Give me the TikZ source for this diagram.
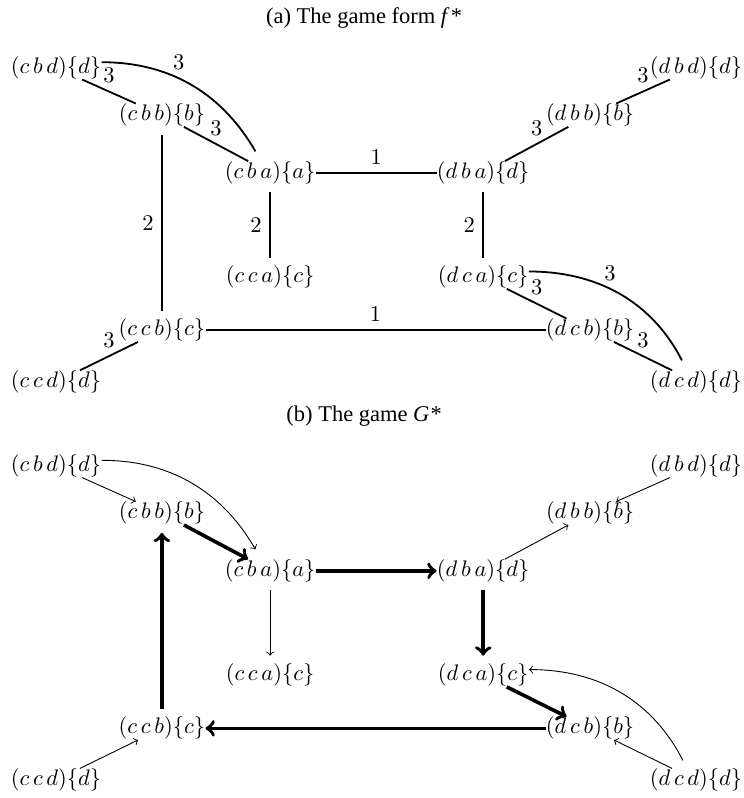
\documentclass[tikz,border=0pt]{standalone}
\usepackage{amsmath}
\usepackage{fontspec}
\newfontfamily\capfont{Liberation Serif}
\usetikzlibrary{positioning}

\begin{document}
\begin{tikzpicture}[
  state/.style={inner sep=0pt},
  caption/.style={font=\capfont},
  edge/.style={thick},
  gap/.style={shorten <=3.5pt, shorten >=3.5pt},
  weight/.style={midway},
  move/.style={->, thin},
  best/.style={->, line width=1.6pt},
]
  \useasboundingbox (0,0) rectangle (11.625,-12.469);

  % (a) the game form
  \node[caption] (capf) at (5.69,-0.28) {(a) The game form \textit{f}\kern0.5pt*};
  \node[state] (f-cbd) at (0.875,-1.06) {$(c\,b\,d)\{d\}$};
  \node[state] (f-cbb) at (2.53,-1.80) {$(c\,b\,b)\{b\}$};
  \node[state] (f-cba) at (4.22,-2.70) {$(c\,b\,a)\{a\}$};
  \node[state] (f-dba) at (7.55,-2.70) {$(d\,b\,a)\{d\}$};
  \node[state] (f-dbb) at (9.22,-1.80) {$(d\,b\,b)\{b\}$};
  \node[state] (f-dbd) at (10.875,-1.06) {$(d\,b\,d)\{d\}$};
  \node[state] (f-cca) at (4.22,-4.33) {$(c\,c\,a)\{c\}$};
  \node[state] (f-dca) at (7.55,-4.33) {$(d\,c\,a)\{c\}$};
  \node[state] (f-ccb) at (2.53,-5.16) {$(c\,c\,b)\{c\}$};
  \node[state] (f-dcb) at (9.22,-5.16) {$(d\,c\,b)\{b\}$};
  \node[state] (f-ccd) at (0.875,-5.97) {$(c\,c\,d)\{d\}$};
  \node[state] (f-dcd) at (10.875,-5.97) {$(d\,c\,d)\{d\}$};

  \draw[edge] (f-cbd) -- node[weight, above] {3} (f-cbb);
  \draw[edge] (f-cbb) -- node[weight, above] {3} (f-cba);
  \draw[edge, shorten >=5pt] ([yshift=2.5pt]f-cbd.east) to[out=0, in=120]
    node[pos=0.4, above] {3} ([xshift=-4pt]f-cba.north);
  \draw[edge] (f-cba) -- node[weight, above] {1} (f-dba);
  \draw[edge, gap] (f-cba) -- node[weight, left] {2} (f-cca);
  \draw[edge, gap] (f-cbb) -- node[weight, left] {2} (f-ccb);
  \draw[edge, gap] (f-dba) -- node[weight, left] {2} (f-dca);
  \draw[edge] (f-dba) -- node[weight, above] {3} (f-dbb);
  \draw[edge] (f-dbb) -- node[weight, above] {3} (f-dbd);
  \draw[edge] (f-ccb) -- node[weight, above] {1} (f-dcb);
  \draw[edge] (f-ccd) -- node[weight, above] {3} (f-ccb);
  \draw[edge] (f-dca) -- node[weight, above] {3} (f-dcb);
  \draw[edge] (f-dcb) -- node[weight, above] {3} (f-dcd);
  \draw[edge, shorten >=5pt] ([yshift=2.5pt]f-dca.east) to[out=0, in=117]
    node[pos=0.42, above] {3} ([xshift=-4pt]f-dcd.north);

  % (b) the game
  \begin{scope}[yshift=-6.22cm]
    \node[caption] (capg) at (5.69,-0.28) {(b) The game \textit{G}\kern0.5pt*};
    \node[state] (g-cbd) at (0.875,-1.06) {$(c\,b\,d)\{d\}$};
    \node[state] (g-cbb) at (2.53,-1.80) {$(c\,b\,b)\{b\}$};
    \node[state] (g-cba) at (4.22,-2.70) {$(c\,b\,a)\{a\}$};
    \node[state] (g-dba) at (7.55,-2.70) {$(d\,b\,a)\{d\}$};
    \node[state] (g-dbb) at (9.22,-1.80) {$(d\,b\,b)\{b\}$};
    \node[state] (g-dbd) at (10.875,-1.06) {$(d\,b\,d)\{d\}$};
    \node[state] (g-cca) at (4.22,-4.33) {$(c\,c\,a)\{c\}$};
    \node[state] (g-dca) at (7.55,-4.33) {$(d\,c\,a)\{c\}$};
    \node[state] (g-ccb) at (2.53,-5.16) {$(c\,c\,b)\{c\}$};
    \node[state] (g-dcb) at (9.22,-5.16) {$(d\,c\,b)\{b\}$};
    \node[state] (g-ccd) at (0.875,-5.97) {$(c\,c\,d)\{d\}$};
    \node[state] (g-dcd) at (10.875,-5.97) {$(d\,c\,d)\{d\}$};
  \end{scope}

  \draw[move] (g-cbd) -- (g-cbb);
  \draw[move, shorten >=5pt] ([yshift=2.5pt]g-cbd.east) to[out=0, in=120] ([xshift=-4pt]g-cba.north);
  \draw[best] (g-cbb) -- (g-cba);
  \draw[best] (g-cba) -- (g-dba);
  \draw[move, gap] (g-cba) -- (g-cca);
  \draw[move] (g-dba) -- (g-dbb);
  \draw[move] (g-dbd) -- (g-dbb);
  \draw[best, gap] (g-dba) -- (g-dca);
  \draw[best] (g-dca) -- (g-dcb);
  \draw[best] (g-dcb) -- (g-ccb);
  \draw[best, gap] (g-ccb) -- (g-cbb);
  \draw[move] (g-ccd) -- (g-ccb);
  \draw[move] (g-dcd) -- (g-dcb);
  \draw[move, shorten <=4pt] ([xshift=-4pt]g-dcd.north) to[out=117, in=0] ([yshift=2.5pt]g-dca.east);
\end{tikzpicture}
\end{document}
